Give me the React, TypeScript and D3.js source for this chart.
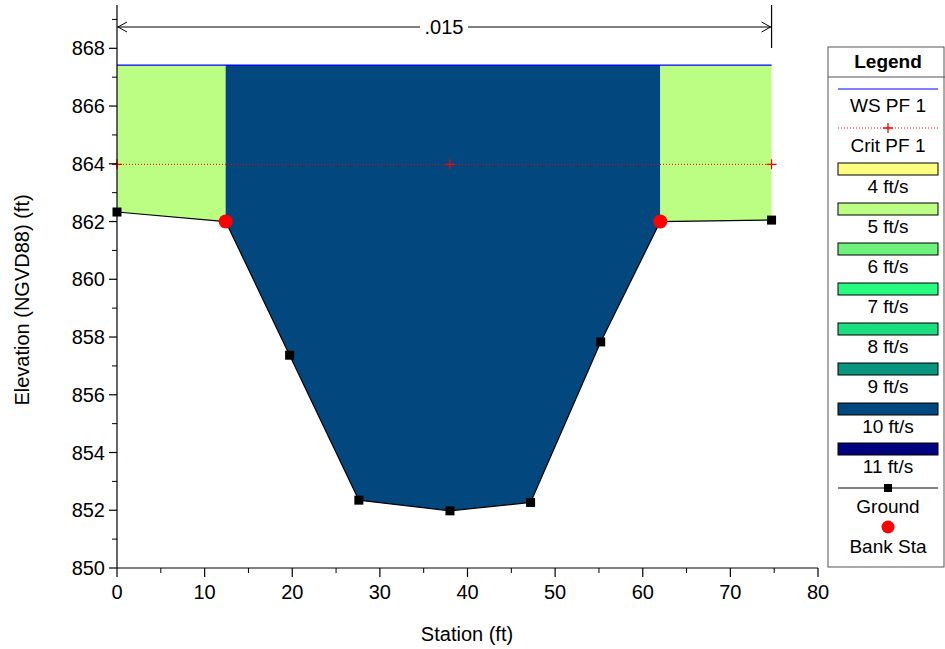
import React from "react";
import * as d3 from "d3";

const groundStation = [0, 12.4, 19.7, 27.6, 38.0, 47.2, 55.2, 62.0, 74.7];
const groundElev = [862.33, 862.0, 857.37, 852.35, 851.98, 852.27, 857.83, 862.0, 862.05];
const bankStations = [12.4, 62.0];
const bankElevs = [862.0, 862.0];
const wsElev = 867.42;
const critElev = 863.98;
const critMarkStations = [0, 38.0, 74.7];
const velocityZones = [
  { from: 0, to: 12.4, vel: "5 ft/s" },
  { from: 12.4, to: 62.0, vel: "10 ft/s" },
  { from: 62.0, to: 74.7, vel: "5 ft/s" },
];
const legendVelLabels = ["4 ft/s", "5 ft/s", "6 ft/s", "7 ft/s", "8 ft/s", "9 ft/s", "10 ft/s", "11 ft/s"];
const legendVelColors = ["#fdfd80", "#bbfe83", "#6ef27e", "#27fc80", "#1cdc80", "#0a957e", "#02477d", "#02027e"];
const xTicks = [0, 10, 20, 30, 40, 50, 60, 70, 80];
const yTicks = [850, 852, 854, 856, 858, 860, 862, 864, 866, 868];
const nValueLabel = ".015";

const FONT = "Liberation Sans, Arial, sans-serif";

export default function App() {
  const x = d3.scaleLinear().domain([0, 80]).range([117, 818]);
  const y = d3.scaleLinear().domain([850, 869.5]).range([568, 5]);
  const velColor = (v: string) => legendVelColors[legendVelLabels.indexOf(v)];

  const groundPts: [number, number][] = groundStation.map((s, i) => [s, groundElev[i]]);
  const interpGround = (s: number) => {
    for (let i = 0; i < groundStation.length - 1; i++) {
      const a = groundStation[i], b = groundStation[i + 1];
      if (s >= a && s <= b) {
        const t = b === a ? 0 : (s - a) / (b - a);
        return groundElev[i] + t * (groundElev[i + 1] - groundElev[i]);
      }
    }
    return groundElev[groundElev.length - 1];
  };

  const zonePolys = velocityZones.map((z) => {
    const pts: [number, number][] = [[z.from, wsElev], [z.to, wsElev], [z.to, interpGround(z.to)]];
    for (let i = groundStation.length - 1; i >= 0; i--) {
      const s = groundStation[i];
      if (s < z.to && s > z.from) pts.push([s, groundElev[i]]);
    }
    pts.push([z.from, interpGround(z.from)]);
    return { d: "M" + pts.map((p) => `${x(p[0])},${y(p[1])}`).join("L") + "Z", fill: velColor(z.vel) };
  });

  const line = d3.line<[number, number]>().x((d) => x(d[0])).y((d) => y(d[1]));

  const xMinor = d3.range(5, 80, 10);
  const yMinor = d3.range(851, 870, 2);

  const lx = 828, lw = 117, ly = 47, lh = 520;
  const legendItems: React.ReactNode[] = [];
  const cx = 888;
  const LF = 19;
  legendItems.push(<line key="wsl" x1={838} x2={938} y1={89} y2={89} stroke="#0000ff" strokeWidth={1.2} />);
  legendItems.push(<text key="wst" x={cx} y={112} textAnchor="middle" fontSize={LF}>WS PF 1</text>);
  legendItems.push(<line key="crl" x1={838} x2={938} y1={128} y2={128} stroke="#ff0000" strokeWidth={1} strokeDasharray="1,2" />);
  legendItems.push(<path key="crp" d={`M${cx - 5},128H${cx + 5}M${cx},123V133`} stroke="#ff0000" strokeWidth={1.3} />);
  legendItems.push(<text key="crt" x={cx} y={152} textAnchor="middle" fontSize={LF}>Crit PF 1</text>);
  legendVelLabels.forEach((lab, i) => {
    const by = 163 + i * 40;
    legendItems.push(<rect key={"r" + i} x={838} y={by} width={100} height={12} fill={legendVelColors[i]} stroke="#000" strokeWidth={1} />);
    legendItems.push(<text key={"t" + i} x={cx} y={by + 30} textAnchor="middle" fontSize={LF}>{lab}</text>);
  });
  legendItems.push(<line key="gl" x1={838} x2={938} y1={488} y2={488} stroke="#000" strokeWidth={1} />);
  legendItems.push(<rect key="gr" x={cx - 4} y={484} width={8} height={8} fill="#000" />);
  legendItems.push(<text key="gt" x={cx} y={513} textAnchor="middle" fontSize={LF}>Ground</text>);
  legendItems.push(<circle key="bc" cx={cx} cy={527} r={6.5} fill="#ff0000" />);
  legendItems.push(<text key="bt" x={cx} y={553} textAnchor="middle" fontSize={LF}>Bank Sta</text>);

  const dimY = 27;
  const xL = x(0), xR = x(groundStation[groundStation.length - 1]);

  return (
    <svg width={945} height={649} style={{ position: "absolute", left: 0, top: 0, fontFamily: FONT }}>
      <rect x={0} y={0} width={945} height={649} fill="#fff" />
      {zonePolys.map((p, i) => (
        <path key={i} d={p.d} fill={p.fill} stroke="none" />
      ))}
      <line x1={xL} x2={xR} y1={y(wsElev)} y2={y(wsElev)} stroke="#0000ff" strokeWidth={1.2} />
      <line x1={xL} x2={xR} y1={y(critElev)} y2={y(critElev)} stroke="#ff0000" strokeWidth={1} strokeDasharray="1,2" />
      {critMarkStations.map((s, i) => (
        <path key={i} d={`M${x(s) - 5},${y(critElev)}H${x(s) + 5}M${x(s)},${y(critElev) - 5}V${y(critElev) + 5}`} stroke="#ff0000" strokeWidth={1.2} />
      ))}
      <path d={line(groundPts) || ""} fill="none" stroke="#000" strokeWidth={1.2} />
      {groundPts.map((p, i) => (
        <rect key={i} x={x(p[0]) - 4.5} y={y(p[1]) - 4.5} width={9} height={9} fill="#000" />
      ))}
      {bankStations.map((s, i) => (
        <circle key={i} cx={x(s)} cy={y(bankElevs[i])} r={7} fill="#ff0000" />
      ))}

      {/* dimension line */}
      <line x1={xL} x2={xR} y1={dimY} y2={dimY} stroke="#000" strokeWidth={1} />
      <line x1={xR} x2={xR} y1={5} y2={48} stroke="#000" strokeWidth={1.2} />
      <path d={`M${xL + 10},${dimY - 5}L${xL + 1},${dimY}L${xL + 10},${dimY + 5}`} fill="none" stroke="#000" strokeWidth={1} />
      <path d={`M${xR - 10},${dimY - 5}L${xR - 1},${dimY}L${xR - 10},${dimY + 5}`} fill="none" stroke="#000" strokeWidth={1} />
      <rect x={420} y={dimY - 11} width={48} height={22} fill="#fff" />
      <text x={444} y={dimY + 7} textAnchor="middle" fontSize={20}>{nValueLabel}</text>

      {/* axes */}
      <line x1={117} x2={117} y1={5} y2={568} stroke="#000" strokeWidth={1.2} />
      <line x1={117} x2={818} y1={568} y2={568} stroke="#000" strokeWidth={1.2} />
      {yTicks.map((t) => (
        <g key={t}>
          <line x1={109} x2={117} y1={y(t)} y2={y(t)} stroke="#000" strokeWidth={1.2} />
          <text x={105} y={y(t) + 7} textAnchor="end" fontSize={20}>{t}</text>
        </g>
      ))}
      {yMinor.map((t) => (
        <line key={t} x1={112} x2={117} y1={y(t)} y2={y(t)} stroke="#000" strokeWidth={1} />
      ))}
      {xTicks.map((t) => (
        <g key={t}>
          <line x1={x(t)} x2={x(t)} y1={568} y2={577} stroke="#000" strokeWidth={1.2} />
          <text x={x(t)} y={599} textAnchor="middle" fontSize={20}>{t}</text>
        </g>
      ))}
      {xMinor.map((t) => (
        <line key={t} x1={x(t)} x2={x(t)} y1={568} y2={573} stroke="#000" strokeWidth={1} />
      ))}
      <text x={467} y={641} textAnchor="middle" fontSize={20}>Station (ft)</text>
      <text transform={`translate(29,${300}) rotate(-90)`} textAnchor="middle" fontSize={20}>Elevation (NGVD88) (ft)</text>

      {/* legend */}
      <rect x={lx} y={ly} width={lw - 1} height={lh} fill="#fff" stroke="#555" strokeWidth={1} />
      <line x1={lx} x2={lx + lw} y1={77} y2={77} stroke="#555" strokeWidth={1} />
      <text x={cx} y={68} textAnchor="middle" fontSize={19} fontWeight="bold">Legend</text>
      {legendItems}
    </svg>
  );
}
